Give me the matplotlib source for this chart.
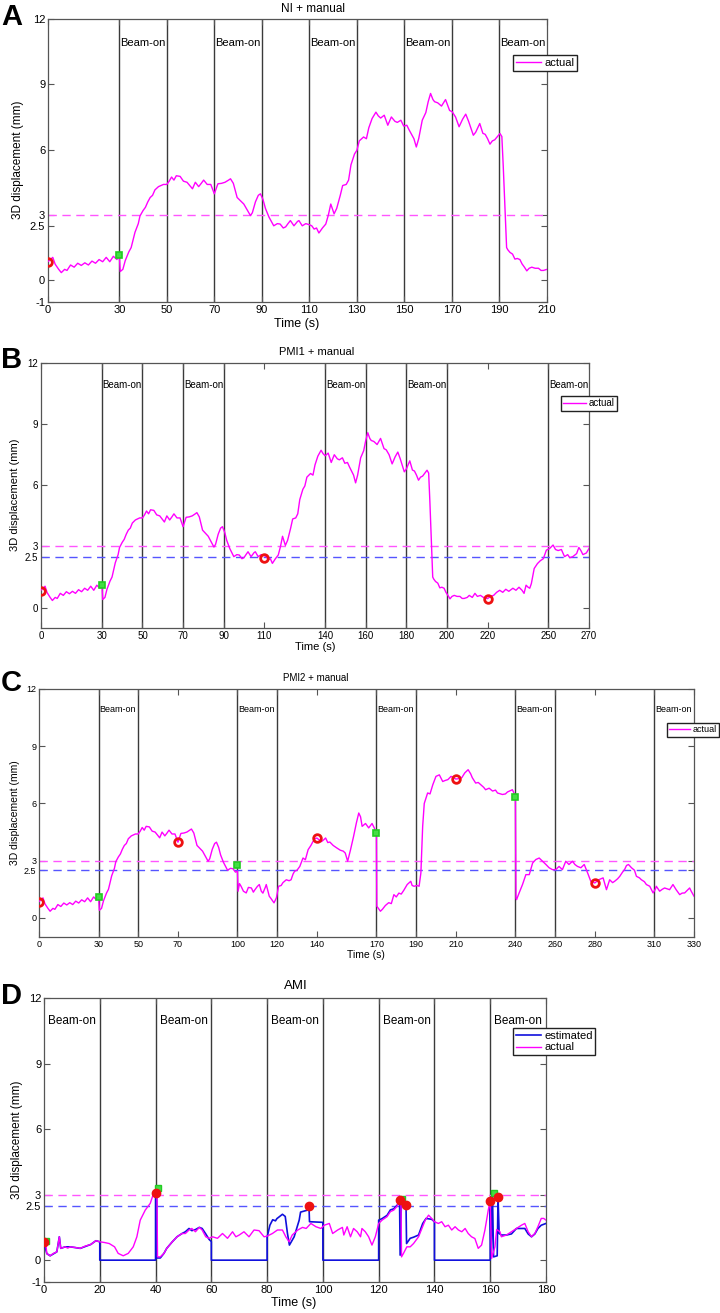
import matplotlib
matplotlib.use("Agg")
import matplotlib.pyplot as plt

plt.rcParams['font.family'] = ['Liberation Sans', 'DejaVu Sans']

# --- NI + manual trace (also the start of PMI1 / PMI2), time (s) / 3D displacement (mm)
base_t = [0, 1, 2, 3, 4.5, 5.6, 7, 8, 9.5, 11, 12.5, 14, 15.5, 17, 18.5, 20, 21.5, 23, 24.5, 26,
          27.5, 29, 30, 30.4, 31.5, 32.5, 34, 35, 36.6, 38, 38.7, 40, 41, 42, 43, 44, 45, 46.5,
          48.6, 50, 51, 52, 53, 54, 55.6, 57, 58.5, 60, 60.8, 62, 63.4, 64.5, 65.5, 67, 68.5, 70,
          71.5, 73, 74.5, 76, 76.8, 78, 79.6, 81, 82.4, 84, 85.2, 86, 87.3, 88.5, 89.4, 90.5, 91.5,
          93, 95, 96.5, 97.7, 99, 100, 101, 102, 103.5, 105, 105.6, 107, 108.5, 110, 111, 112, 113,
          114, 115.5, 116.9, 118, 119, 120.4, 121.5, 123, 124, 125.5, 126.5, 127.5, 129, 130, 131,
          132.8, 134, 135, 136.4, 138, 139, 140, 141.5, 143, 144.5, 146, 147, 148.5, 149.7, 151,
          152, 154, 155, 156, 157.5, 159, 160, 161, 162, 162.7, 164, 165.6, 167.3, 169, 170.1,
          171.5, 173, 174.5, 175.8, 177, 179, 180, 181.7, 183, 184, 185, 186, 187, 188, 190.2, 191,
          191.6, 192.3, 193, 193.5, 194.4, 195.5, 196.5, 197.5, 198.6, 199.5, 200.5, 201.5, 202.5,
          203.6, 205, 206.4, 207.5, 208.5, 210]
base_y = [0.86, 0.95, 1.05, 0.74, 0.5, 0.35, 0.5, 0.45, 0.7, 0.6, 0.78, 0.68, 0.8, 0.7, 0.88, 0.78,
          0.95, 0.85, 1.05, 0.85, 1.1, 0.95, 1.17, 0.4, 0.5, 0.9, 1.3, 1.5, 2.2, 2.6, 2.95, 3.2,
          3.35, 3.6, 3.8, 3.9, 4.15, 4.3, 4.4, 4.4, 4.55, 4.74, 4.6, 4.8, 4.77, 4.55, 4.5, 4.3,
          4.2, 4.5, 4.3, 4.45, 4.6, 4.4, 4.4, 3.97, 4.43, 4.45, 4.5, 4.6, 4.66, 4.45, 3.8, 3.65,
          3.5, 3.2, 2.97, 3.1, 3.6, 3.9, 3.97, 3.7, 3.3, 2.9, 2.5, 2.6, 2.58, 2.4, 2.45, 2.6, 2.74,
          2.5, 2.7, 2.74, 2.5, 2.6, 2.55, 2.5, 2.35, 2.4, 2.17, 2.4, 2.58, 3.0, 3.5, 3.05, 3.3,
          3.9, 4.35, 4.4, 4.6, 5.3, 5.8, 5.97, 6.4, 6.58, 6.5, 7.0, 7.43, 7.72, 7.55, 7.45, 7.58,
          7.12, 7.5, 7.3, 7.25, 7.35, 7.08, 7.12, 6.9, 6.5, 6.12, 6.5, 7.35, 7.7, 8.2, 8.58, 8.3,
          8.2, 8.15, 8.0, 8.3, 7.8, 7.74, 7.5, 7.05, 7.4, 7.63, 7.3, 6.66, 6.8, 7.2, 6.75, 6.7,
          6.5, 6.25, 6.4, 6.45, 6.74, 6.6, 5.2, 3.35, 1.5, 1.4, 1.28, 1.2, 0.97, 1.0, 0.95, 0.75,
          0.6, 0.43, 0.55, 0.6, 0.55, 0.55, 0.45, 0.45, 0.5]

# --- PMI1 continues after 210 s
pmi1_t = [211, 212.5, 213.8, 215, 216.5, 218, 220, 221.5, 223, 224.5, 226, 227.5, 229, 230.5, 232.5,
          234, 235.5, 237, 238, 239, 240, 240.8, 241.6, 243, 244.6, 246, 247.5, 249, 250.6, 252.3,
          253.5, 254.8, 256.4, 257.5, 258, 259.5, 260.5, 262, 263.9, 265, 266, 267, 268.7, 270]
pmi1_y = [0.6, 0.5, 0.7, 0.55, 0.6, 0.5, 0.44, 0.55, 0.6, 0.75, 0.85, 0.75, 0.9, 0.8, 0.95, 0.85,
          1.0, 0.85, 0.7, 1.1, 1.0, 0.95, 1.18, 1.92, 2.16, 2.3, 2.4, 2.82, 2.9, 3.07, 2.85, 2.8,
          2.85, 2.6, 2.5, 2.6, 2.45, 2.5, 2.65, 2.95, 2.8, 2.6, 2.68, 2.9]

# --- PMI2 after the first correction at 100 s
pmi2_t = [100.3, 101, 101.8, 103, 104.4, 105.5, 107, 108, 108.6, 110, 111, 112, 112.8, 114, 114.5,
          116, 117, 118.4, 119.6, 120.7, 122, 122.9, 124.6, 126, 127, 128, 128.8, 130, 131.4, 133,
          134.2, 135.6, 137, 138, 139, 140, 141, 142.3, 143.5, 144.4, 145.5, 146.5, 148.2, 150,
          151.8, 153.3, 154.3, 155.5, 156.9, 158.5, 159.9, 161.1, 162, 162.8, 164.5, 166.1, 167.8,
          169, 170, 170.2, 171, 172, 173, 174.5, 176.2, 177.5, 178.8, 180, 181.3, 182.5, 183.8,
          185.5, 187.3, 188, 189, 190.5, 191.5, 192.4, 193.3, 194.1, 195.8, 197, 198.4, 200, 201.7,
          203.4, 204.5, 206, 207.6, 210, 211.5, 213, 214.5, 216.2, 217.5, 218.3, 220, 221.3, 222.6,
          224, 225, 226.8, 228.5, 230, 231, 233.5, 235, 236, 238.5, 239.5, 240, 240.3, 240.6,
          241.9, 243.6, 245.3, 247, 248.7, 250.3, 252, 253.7, 255.4, 257, 258.7, 260.3, 262,
          263.7, 265.4, 267, 268.8, 270, 271.3, 273, 274.7, 276.4, 278, 280, 282, 284.2, 285.9,
          287.5, 289, 290, 291.5, 292.6, 294, 295, 296, 297, 298.5, 300, 301, 302.5, 303.5, 305,
          306, 307.7, 309.4, 310.5, 311, 312.7, 314, 315.2, 317.7, 319.4, 321, 322.8, 324, 325.3,
          327.8, 328.6, 330]
pmi2_y = [1.4, 1.8, 1.66, 1.4, 1.31, 1.6, 1.57, 1.35, 1.45, 1.65, 1.75, 1.4, 1.3, 1.6, 1.75, 1.14,
          1.0, 0.79, 1.05, 1.66, 1.7, 1.85, 2.0, 1.95, 2.0, 2.3, 2.45, 2.5, 2.7, 3.14, 3.05, 3.58,
          3.8, 4.0, 4.15, 4.19, 4.1, 4.0, 4.1, 4.19, 3.95, 3.98, 3.8, 3.67, 3.55, 3.5, 3.4, 2.97,
          3.55, 4.28, 4.98, 5.5, 5.3, 4.8, 4.95, 4.72, 4.95, 4.7, 4.45, 0.61, 0.5, 0.35, 0.45,
          0.65, 0.8, 0.75, 1.22, 1.1, 1.3, 1.25, 1.45, 1.75, 1.92, 1.7, 1.66, 1.7, 1.66, 2.36, 4.8,
          6.0, 6.55, 6.5, 6.98, 7.42, 7.5, 7.15, 7.2, 7.25, 7.42, 7.28, 7.3, 7.35, 7.6, 7.77, 7.55,
          7.35, 7.07, 7.1, 6.98, 6.85, 6.72, 6.8, 6.65, 6.7, 6.55, 6.47, 6.5, 6.6, 6.72, 6.5, 6.37,
          1.05, 0.96, 1.31, 1.75, 2.27, 2.27, 2.88, 3.06, 3.14, 2.97, 2.8, 2.63, 2.53, 2.53, 2.7,
          2.53, 2.97, 2.8, 2.97, 2.8, 2.7, 2.63, 2.8, 2.36, 1.92, 1.83, 2.0, 2.1, 1.48, 2.0, 1.85,
          1.92, 2.05, 2.18, 2.4, 2.53, 2.75, 2.8, 2.63, 2.5, 2.18, 2.1, 2.0, 1.9, 1.75, 1.66, 1.31,
          1.5, 1.66, 1.4, 1.5, 1.57, 1.48, 1.75, 1.48, 1.22, 1.3, 1.31, 1.57, 1.4, 1.14]

# --- AMI: actual and estimated traces
ami_t = [0, 0.5, 1, 2.2, 3.4, 4.6, 5.5, 6, 7.6, 8.5, 9.4, 11.2, 13, 14.7, 16.8, 18.6, 20, 21.6, 23.4,
         25.3, 26.6, 28.4, 30.2, 32, 33.3, 34.5, 36.3, 38.1, 39.3, 40, 40.5, 40.7, 41.7, 43, 44, 46,
         47.7, 49.5, 50.7, 52, 53, 54.3, 55.7, 56.7, 58, 59.2, 60.4, 62.2, 64, 65.8, 67.6, 68.8, 70,
         71.7, 73.5, 75.3, 77.1, 78.9, 80, 81.9, 83.7, 85.5, 86.7, 87.9, 89, 91, 92.7, 94, 95.7,
         97.5, 99.3, 100.5, 102.3, 103.5, 105.3, 107, 107.5, 108.7, 109.9, 111, 112.3, 113.5, 114,
         115.2, 116.4, 117.6, 118.8, 120, 121.2, 123, 124.2, 125.4, 126.5, 127.5, 128, 128.2, 128.9,
         130.1, 131.3, 132.5, 134.3, 135.5, 136.7, 137.9, 139, 140, 141.4, 142.6, 143.8, 145, 146.2,
         147.4, 148.6, 149.8, 151, 152.1, 153.3, 154.5, 155.7, 156.9, 158.1, 159.3, 160, 160.5,
         161.7, 162.3, 163.5, 164, 165.8, 167.6, 169.4, 171.2, 172.4, 173.6, 174.8, 176, 177.1,
         178.3, 179.2, 180]
ami_actual = [0.81, 0.95, 0.3, 0.2, 0.31, 0.38, 1.07, 0.54, 0.61, 0.55, 0.61, 0.58, 0.54, 0.64, 0.72,
              0.89, 0.84, 0.81, 0.76, 0.61, 0.31, 0.2, 0.31, 0.61, 1.07, 1.83, 2.29, 2.6, 3.06, 3.13,
              3.15, 0.15, 0.15, 0.31, 0.54, 0.84, 1.07, 1.22, 1.22, 1.38, 1.45, 1.3, 1.5, 1.38, 1.07,
              1.0, 1.07, 1.0, 1.22, 1.0, 1.3, 1.07, 1.15, 1.3, 1.07, 1.38, 1.35, 1.07, 1.1, 1.22,
              1.38, 1.38, 1.07, 0.84, 1.15, 1.38, 1.5, 1.45, 1.68, 1.53, 1.45, 1.6, 1.68, 1.22, 1.38,
              1.5, 1.15, 1.53, 1.07, 1.45, 1.3, 1.07, 1.45, 1.3, 1.07, 0.69, 1.07, 1.68, 1.83, 1.99,
              2.22, 2.29, 2.45, 2.68, 2.7, 0.15, 0.31, 0.61, 0.61, 0.76, 1.07, 1.45, 1.83, 2.06,
              1.91, 1.76, 1.68, 1.76, 1.53, 1.6, 1.38, 1.53, 1.38, 1.3, 1.45, 1.22, 1.07, 0.99, 0.54,
              0.69, 1.38, 2.29, 2.75, 0.08, 0.61, 1.4, 1.3, 1.07, 1.15, 1.3, 1.45, 1.6, 1.68, 1.3,
              1.07, 1.22, 1.53, 1.91, 1.91, 1.83]
est_t = [0, 1, 2.2, 4.6, 5.5, 6, 7.6, 9.4, 13, 16.8, 18.6, 20, 20, 40, 40, 40.4, 40.5, 41.7, 43, 44,
         46, 47.7, 49.5, 50.7, 52, 53, 54.3, 55.7, 56.7, 58, 59.2, 60, 60, 80, 80, 81, 82, 83, 83.5,
         85.5, 86.5, 87.3, 88, 89.7, 91.5, 92, 94.5, 95, 95.2, 100, 100, 120, 120, 121.2, 123, 124.2,
         125.4, 126.5, 127.5, 127.7, 128.2, 129.8, 130, 131.3, 132.5, 134.3, 135.8, 137, 139, 140,
         140, 160, 160, 160.3, 160.8, 161.2, 162.5, 162.8, 163.2, 164, 165.8, 167.6, 169.4, 171.2,
         172.4, 173.6, 174.8, 176, 177.1, 178.3, 180]
est_y = [0.81, 0.3, 0.2, 0.38, 1.07, 0.54, 0.61, 0.61, 0.54, 0.72, 0.89, 0.84, 0, 0, 3.2, 3.2, 0.1,
         0.1, 0.31, 0.54, 0.84, 1.07, 1.22, 1.3, 1.45, 1.35, 1.4, 1.5, 1.45, 1.2, 0.95, 0.85, 0, 0,
         1.05, 1.6, 1.85, 1.8, 1.9, 2.1, 2.0, 1.22, 0.69, 1.07, 1.83, 2.2, 2.29, 2.5, 1.76, 1.73, 0,
         0, 1.83, 1.9, 2.05, 2.3, 2.35, 2.5, 2.65, 0.23, 2.9, 2.6, 0.76, 1.0, 1.05, 1.15, 1.68,
         1.91, 1.87, 1.76, 0, 0, 2.75, 0.15, 3.05, 0.15, 0.2, 2.9, 1.22, 1.15, 1.15, 1.2, 1.45, 1.45,
         1.45, 1.2, 1.07, 1.2, 1.45, 1.6, 1.68]

# marker positions (red = circles, green = squares)
red_a = ([0], [0.86]);                     green_a = ([30], [1.17])
red_b = ([0, 110, 220], [0.82, 2.41, 0.44]); green_b = ([30], [1.13])
red_c = ([0, 70, 140, 210, 280], [0.84, 3.97, 4.19, 7.28, 1.83])
green_c = ([30, 100, 170, 240], [1.08, 2.76, 4.45, 6.34])
red_d = ([0, 40, 95, 127.5, 129.9, 160, 162.9], [0.81, 3.06, 2.48, 2.75, 2.52, 2.72, 2.9])
green_d = ([0.7, 40.9, 128.2, 161.2], [0.89, 3.32, 2.78, 3.09])

xt_a = [0, 30, 50, 70, 90, 110, 130, 150, 170, 190, 210]
xt_b = [0, 30, 50, 70, 90, 110, 140, 160, 180, 200, 220, 250, 270]
xt_c = [0, 30, 50, 70, 100, 120, 140, 170, 190, 210, 240, 260, 280, 310, 330]
xt_d = [0, 20, 40, 60, 80, 100, 120, 140, 160, 180]
vl_a = [30, 50, 70, 90, 110, 130, 150, 170, 190]
vl_b = [30, 50, 70, 90, 140, 160, 180, 200, 250]
vl_c = [30, 50, 100, 120, 170, 190, 240, 260, 310]
vl_d = [20, 40, 60, 80, 100, 120, 140, 160]
beam_a = [30, 70, 110, 150, 190]
beam_b = [30, 70, 140, 180, 250]
beam_c = [30, 100, 170, 240, 310]
beam_d = [10, 50, 90, 130, 170]

# PMI1 = base + continuation; PMI2 = base up to 100 s + corrected part
b_t = base_t + pmi1_t
b_y = base_y + pmi1_y
c_t = [t for t in base_t if t <= 100] + pmi2_t
c_y = [y for t, y in zip(base_t, base_y) if t <= 100] + pmi2_y

W, H = 720, 1313
fig = plt.figure(figsize=(W / 100, H / 100), dpi=100)


def px_axes(l, t, r, b):
    return fig.add_axes([l / W, 1 - b / H, (r - l) / W, (b - t) / H])


def draw_panel(ax, xmax, xticks, vlines, beams, yticks, fs, centered=False, blue_ref=True):
    for x in vlines:
        ax.axvline(x, color='#3a3a3a', lw=1, zorder=1)
    ax.axhline(3, color='#ff55ff', lw=1, dashes=(6, 4), zorder=2)
    if blue_ref:
        ax.axhline(2.5, color='#5555ff', lw=1, dashes=(6, 4), zorder=2)
    for x in beams:
        if centered:
            ax.text(x, 10.95, 'Beam-on', ha='center', va='center', fontsize=fs + 0.5)
        else:
            ax.text(x + 0.4, 10.9, 'Beam-on', ha='left', va='center', fontsize=fs)
    ax.set_xlim(0, xmax)
    ax.set_ylim(-1, 12)
    ax.set_xticks(xticks)
    ax.set_yticks(yticks)
    ax.set_yticklabels([('%g' % v) for v in yticks])
    ax.tick_params(direction='in', top=True, right=True, length=4, width=0.8,
                   color='#555555', labelsize=fs, pad=2)
    for s in ax.spines.values():
        s.set_color('#555555')
        s.set_linewidth(0.9)


def hollow_markers(ax, red, green):
    ax.plot(green[0], green[1], 's', ms=5, mfc='#44dd44', mec='#22cc22', mew=1.2, zorder=6)
    ax.plot(red[0], red[1], 'o', ms=5.5, mfc='none', mec='#ee1111', mew=2, zorder=6)


def legend_at(ax, x, y, fs):
    ax.legend(loc='upper left', bbox_to_anchor=(x / W, 1 - y / H), bbox_transform=fig.transFigure,
              fontsize=fs, frameon=True, fancybox=False, edgecolor='#222222', framealpha=1,
              borderpad=0.25, handlelength=2.3, handletextpad=0.25, labelspacing=0.15,
              borderaxespad=0)


# ---- A: NI + manual
ax = px_axes(48, 19, 547, 302)
draw_panel(ax, 210, xt_a, vl_a, beam_a, [-1, 0, 2.5, 3, 6, 9, 12], 8, blue_ref=False)
ax.plot(base_t, base_y, color='#ff00ff', lw=1, label='actual', zorder=4)
hollow_markers(ax, red_a, green_a)
legend_at(ax, 513, 55, 8)
fig.text(313 / W, 1 - 9 / H, 'NI + manual', ha='center', va='center', fontsize=8.5)
fig.text(297 / W, 1 - 324 / H, 'Time (s)', ha='center', va='center', fontsize=9)
fig.text(18 / W, 1 - 160 / H, '3D displacement (mm)', rotation=90, ha='center', va='center', fontsize=8.5)
fig.text(1 / W, 1 - 17 / H, 'A', fontsize=21, fontweight='bold', ha='left', va='center')

# ---- B: PMI1 + manual
ax = px_axes(41, 363, 589, 628)
draw_panel(ax, 270, xt_b, vl_b, beam_b, [0, 2.5, 3, 6, 9, 12], 7)
ax.plot(b_t, b_y, color='#ff00ff', lw=1, label='actual', zorder=4)
hollow_markers(ax, red_b, green_b)
legend_at(ax, 561, 396, 7)
fig.text(317 / W, 1 - 352 / H, 'PMI1 + manual', ha='center', va='center', fontsize=8)
fig.text(315 / W, 1 - 647 / H, 'Time (s)', ha='center', va='center', fontsize=8)
fig.text(15 / W, 1 - 495 / H, '3D displacement (mm)', rotation=90, ha='center', va='center', fontsize=8)
fig.text(1 / W, 1 - 360 / H, 'B', fontsize=21, fontweight='bold', ha='left', va='center')

# ---- C: PMI2 + manual
ax = px_axes(39, 689, 694, 937)
draw_panel(ax, 330, xt_c, vl_c, beam_c, [0, 2.5, 3, 6, 9, 12], 6.5)
ax.plot(c_t, c_y, color='#ff00ff', lw=1, label='actual', zorder=4)
hollow_markers(ax, red_c, green_c)
legend_at(ax, 667, 723, 6.5)
fig.text(316 / W, 1 - 678 / H, 'PMI2 + manual', ha='center', va='center', fontsize=7)
fig.text(366 / W, 1 - 955 / H, 'Time (s)', ha='center', va='center', fontsize=7.5)
fig.text(15 / W, 1 - 813 / H, '3D displacement (mm)', rotation=90, ha='center', va='center', fontsize=7.5)
fig.text(1 / W, 1 - 683 / H, 'C', fontsize=21, fontweight='bold', ha='left', va='center')

# ---- D: AMI
ax = px_axes(44, 998, 546, 1282)
draw_panel(ax, 180, xt_d, vl_d, beam_d, [-1, 0, 2.5, 3, 6, 9, 12], 8, centered=True)
ax.plot(est_t, est_y, color='#1010dd', lw=1.2, label='estimated', zorder=4)
ax.plot(ami_t, ami_actual, color='#ff00ff', lw=1, label='actual', zorder=5)
ax.plot(green_d[0], green_d[1], 's', ms=5, mfc='#44dd44', mec='#22cc22', zorder=6)
ax.plot(red_d[0], red_d[1], 'o', ms=6, mfc='#ee1111', mec='#ee1111', zorder=7)
legend_at(ax, 513, 1028, 8)
fig.text(296 / W, 1 - 986 / H, 'AMI', ha='center', va='center', fontsize=9.5)
fig.text(294 / W, 1 - 1303 / H, 'Time (s)', ha='center', va='center', fontsize=9)
fig.text(17 / W, 1 - 1140 / H, '3D displacement (mm)', rotation=90, ha='center', va='center', fontsize=8.5)
fig.text(1 / W, 1 - 996 / H, 'D', fontsize=21, fontweight='bold', ha='left', va='center')

fig.savefig('out.png', dpi=100)
